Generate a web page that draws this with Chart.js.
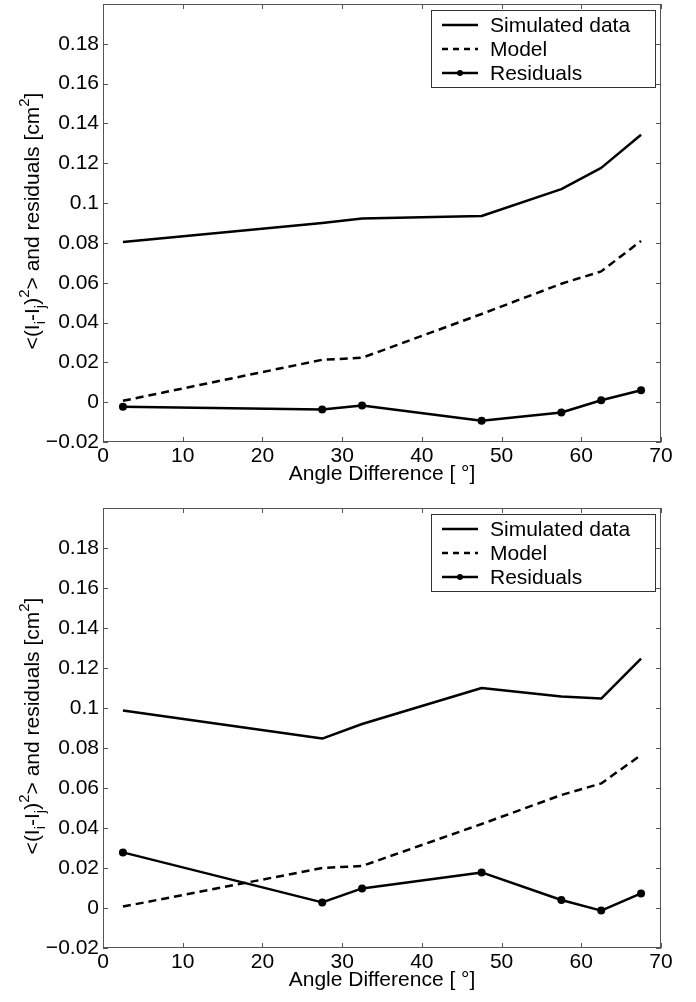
<!DOCTYPE html>
<html>
<head>
<meta charset="utf-8">
<script src="https://cdn.jsdelivr.net/npm/chart.js@4"></script>
<style>
  body { margin: 0; background: #fff; }
  .wrap { position: absolute; left: 0; width: 696px; }
</style>
</head>
<body>
<div class="wrap" style="top:0px;height:500px"><canvas id="topGraph" width="696" height="500"></canvas></div>
<div class="wrap" style="top:500px;height:502px"><canvas id="bottomGraph" width="696" height="502"></canvas></div>
<script>
// x values (angle difference, degrees)
let angles = [2.5, 27.5, 32.5, 47.5, 57.5, 62.5, 67.5];

// top panel
let simulatedTop = [0.0805, 0.0900, 0.0923, 0.0935, 0.1070, 0.1177, 0.1343];
let modelTop = [0.0007, 0.0213, 0.0223, 0.0443, 0.0595, 0.0657, 0.0810];
let residualsTop = [-0.0023, -0.0037, -0.0017, -0.0093, -0.0052, 0.0010, 0.0060];

// bottom panel
let simulatedBottom = [0.0987, 0.0847, 0.0920, 0.1100, 0.1057, 0.1047, 0.1247];
let modelBottom = [0.0007, 0.0200, 0.0210, 0.0420, 0.0565, 0.0623, 0.0765];
let residualsBottom = [0.0278, 0.0028, 0.0098, 0.0178, 0.0040, -0.0013, 0.0073];

let seriesNames = ['Simulated data', 'Model', 'Residuals'];
let xTicks = [0, 10, 20, 30, 40, 50, 60, 70];
let yTicks = [-0.02, 0, 0.02, 0.04, 0.06, 0.08, 0.1, 0.12, 0.14, 0.16, 0.18];

let FONT = '"Liberation Sans", Arial, Helvetica, sans-serif';
let AXIS = '#555';
let DASH = [8, 5];
let LW = 2.5;

function pts(ys) {
  return angles.map((a, i) => ({ x: a, y: ys[i] }));
}

// box, inward ticks, titles and legend like the matlab figure
let matlabFrame = {
  id: 'matlabFrame',
  afterDraw(chart) {
    let c = chart.ctx;
    let a = chart.chartArea;
    let xs = chart.scales.x;
    let ys = chart.scales.y;
    c.save();
    c.strokeStyle = AXIS;
    c.lineWidth = 1;
    c.strokeRect(a.left + 0.5, a.top + 0.5, a.right - a.left - 1, a.bottom - a.top - 1);
    c.beginPath();
    xTicks.forEach(v => {
      let px = Math.round(xs.getPixelForValue(v)) + 0.5;
      c.moveTo(px, a.bottom); c.lineTo(px, a.bottom - 5);
      c.moveTo(px, a.top); c.lineTo(px, a.top + 5);
    });
    yTicks.forEach(v => {
      let py = Math.round(ys.getPixelForValue(v)) + 0.5;
      c.moveTo(a.left, py); c.lineTo(a.left + 5, py);
      c.moveTo(a.right, py); c.lineTo(a.right - 5, py);
    });
    c.stroke();

    // x title
    c.fillStyle = '#000';
    c.font = '21px ' + FONT;
    c.textAlign = 'center';
    c.textBaseline = 'alphabetic';
    c.fillText('Angle Difference [ °]', (a.left + a.right) / 2, a.bottom + 38);

    // y title with sub/superscripts
    let parts = [
      ['<(I', 21, 0], ['i', 15, 6], ['-I', 21, 0], ['j', 15, 6], [')', 21, 0],
      ['2', 15, -10], ['> and residuals [cm', 21, 0], ['2', 15, -10], [']', 21, 0]
    ];
    let total = 0;
    parts.forEach(p => { c.font = p[1] + 'px ' + FONT; total += c.measureText(p[0]).width; });
    c.translate(38.5, (a.top + a.bottom) / 2 - 2);
    c.rotate(-Math.PI / 2);
    c.textAlign = 'left';
    let x = -total / 2;
    parts.forEach(p => {
      c.font = p[1] + 'px ' + FONT;
      c.fillText(p[0], x, p[2]);
      x += c.measureText(p[0]).width;
    });
    c.setTransform(1, 0, 0, 1, 0, 0);

    // legend
    let lx = a.right - 230, ly = a.top + 6, lw = 224, lh = 77;
    c.fillStyle = '#fff';
    c.fillRect(lx, ly, lw, lh);
    c.strokeStyle = '#333';
    c.strokeRect(lx + 0.5, ly + 0.5, lw, lh);
    c.font = '21px ' + FONT;
    c.textBaseline = 'middle';
    chart.data.datasets.forEach((ds, i) => {
      let ry = ly + 15 + i * 24;
      c.strokeStyle = '#000';
      c.lineWidth = LW;
      c.setLineDash(ds.borderDash ? [6, 5] : []);
      c.beginPath();
      c.moveTo(lx + 11, ry); c.lineTo(lx + 47, ry);
      c.stroke();
      c.setLineDash([]);
      if (ds.pointRadius > 0) {
        c.fillStyle = '#000';
        c.beginPath();
        c.arc(lx + 29, ry, 3, 0, Math.PI * 2);
        c.fill();
      }
      c.fillStyle = '#000';
      c.fillText(ds.label, lx + 59, ry + 1);
    });
    c.restore();
  }
};

function makeChart(id, sim, mod, res, padTop, xHeight) {
  let ctx = document.getElementById(id).getContext('2d');
  return new Chart(ctx, {
    type: 'line',
    data: {
      datasets: [{
        label: seriesNames[0],
        data: pts(sim),
        borderColor: '#000',
        borderWidth: LW,
        pointRadius: 0
      },
      {
        label: seriesNames[1],
        data: pts(mod),
        borderColor: '#000',
        borderWidth: LW,
        borderDash: DASH,
        pointRadius: 0
      },
      {
        label: seriesNames[2],
        data: pts(res),
        borderColor: '#000',
        borderWidth: LW,
        pointRadius: 4,
        pointBackgroundColor: '#000',
        pointBorderColor: '#000',
        pointBorderWidth: 0
      }]
    },
    options: {
      responsive: false,
      animation: false,
      devicePixelRatio: 1,
      layout: { padding: { top: padTop, right: 35, left: 0, bottom: 0 } },
      plugins: { legend: { display: false }, tooltip: { enabled: false } },
      elements: { line: { tension: 0, borderJoinStyle: 'round' } },
      scales: {
        x: {
          type: 'linear',
          min: 0, max: 70,
          grid: { display: false, drawTicks: false },
          border: { display: false },
          ticks: {
            stepSize: 10,
            padding: 2,
            color: '#000',
            font: { family: FONT, size: 21 },
            maxRotation: 0,
            callback: v => String(v)
          },
          afterFit: s => { s.height = xHeight; s.paddingLeft = 0; s.paddingRight = 0; }
        },
        y: {
          type: 'linear',
          min: -0.02, max: 0.2,
          grid: { display: false, drawTicks: false },
          border: { display: false },
          ticks: {
            stepSize: 0.02,
            padding: 4,
            color: '#000',
            font: { family: FONT, size: 21 },
            callback: v => {
              if (v > 0.19) return '';
              let s = String(Number(v.toFixed(2)));
              return s.replace('-', '\u2212');
            }
          },
          afterFit: s => { s.width = 103; s.paddingTop = 0; s.paddingBottom = 0; }
        }
      }
    },
    plugins: [matlabFrame]
  });
}

let chartTop = makeChart('topGraph', simulatedTop, modelTop, residualsTop, 2, 58);
let chartBottom = makeChart('bottomGraph', simulatedBottom, modelBottom, residualsBottom, 8, 54);
</script>
</body>
</html>
